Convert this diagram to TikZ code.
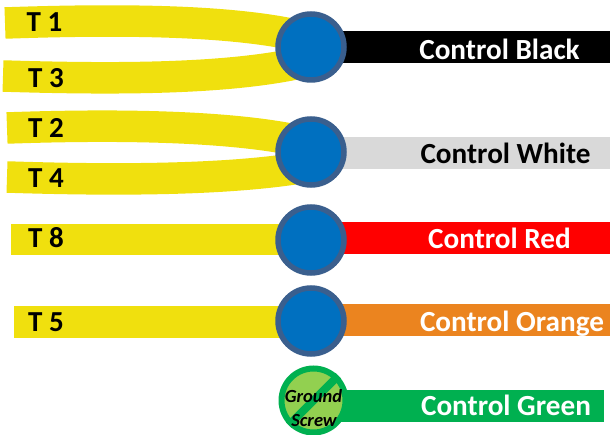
\documentclass[tikz,border=0pt]{standalone}
\usepackage{fontspec}
\setmainfont{Carlito}
\tikzset{
  x=1pt,y=-1pt,
  wire/.style={line width=31.5pt,draw=wireyellow},
  lead/.style={line width=32pt},
  terminal/.style={circle,draw=ringblue,fill=nutblue,line width=5.5pt,minimum size=66pt,inner sep=0pt},
  tlabel/.style={font=\bfseries\fontsize{29}{29}\selectfont,text=black,inner sep=0pt,anchor=base},
  clabel/.style={font=\bfseries\fontsize{29.2}{30}\selectfont,inner sep=0pt,anchor=base},
  gscrew/.style={circle,draw=groundgreen,fill=screwgreen,line width=6pt,minimum size=64pt,inner sep=0pt},
  glabel/.style={font=\bfseries\itshape\fontsize{18.5}{19}\selectfont,text=black,inner sep=0pt,anchor=base}
}
\definecolor{wireyellow}{HTML}{F0E00E}
\definecolor{ringblue}{HTML}{3A5F8E}
\definecolor{nutblue}{HTML}{0070C0}
\definecolor{leadgray}{HTML}{D9D9D9}
\definecolor{leadorange}{HTML}{EB841F}
\definecolor{groundgreen}{HTML}{00B050}
\definecolor{screwgreen}{HTML}{92D050}
\begin{document}
\begin{tikzpicture}
\useasboundingbox (0,0) rectangle (610,435);
% free ends
\coordinate (t1) at (5,23);
\coordinate (t3) at (3,76);
\coordinate (t2) at (7,128);
\coordinate (t4) at (7,177);
\coordinate (t8) at (11,239.5);
\coordinate (t5) at (14,322);
\coordinate (a1) at (300,36);
\coordinate (a3) at (300,63);
\coordinate (a2) at (300,141);
\coordinate (a4) at (300,168);
\coordinate (eblack) at (610,47);
\coordinate (ewhite) at (610,153.5);
\coordinate (ered) at (610,238);
\coordinate (eorange) at (610,320.5);
\coordinate (egreen) at (604,405.5);
\coordinate (c1) at (311,47);
\coordinate (c2) at (311,152);
\coordinate (c3) at (311,240);
\coordinate (c4) at (311,321);
\coordinate (c5) at (313.5,400.5);
% wires
\draw[wire] (t1) .. controls (120,19) and (230,20) .. (a1);
\draw[wire] (t3) .. controls (130,80) and (230,78) .. (a3);
\draw[wire] (t2) .. controls (120,124) and (230,126) .. (a2);
\draw[wire] (t4) .. controls (130,181) and (230,179) .. (a4);
\draw[wire] (t8) -- (t8 -| c3);
\draw[wire] (t5) -- (t5 -| c4);
% leads
\draw[lead,draw=black] (eblack -| c1) -- (eblack);
\draw[lead,draw=leadgray] (ewhite -| c2) -- (ewhite);
\draw[lead,draw=red] (ered -| c3) -- (ered);
\draw[lead,draw=leadorange] (eorange -| c4) -- (eorange);
\draw[lead,draw=groundgreen] (egreen -| c5) -- (egreen);
% terminals
\node[terminal] (n1) at (c1) {};
\node[terminal] (n2) at (c2) {};
\node[terminal] (n3) at (c3) {};
\node[terminal] (n4) at (c4) {};
\node[gscrew] (g) at (c5) {};
\draw[groundgreen,line width=8pt] (g.225) -- (g.45);
\node[glabel] (gl1) at (313.5,402.5) {Ground};
\node[glabel] (gl2) at (314,426.5) {Screw};
% labels
\node[tlabel] (l1) at (44.5,31.5) {T 1};
\node[tlabel] (l3) at (46,88) {T 3};
\node[tlabel] (l2) at (46,138) {T 2};
\node[tlabel] (l4) at (46,188) {T 4};
\node[tlabel] (l8) at (46,248) {T 8};
\node[tlabel] (l5) at (46,332) {T 5};
\node[clabel,text=white] (b) at (499.5,60) {Control Black};
\node[clabel,text=black] (w) at (505.5,163.5) {Control White};
\node[clabel,text=white] (r) at (499.5,248.5) {Control Red};
\node[clabel,text=white] (o) at (512,332) {Control Orange};
\node[clabel,text=white] (gr) at (506,415.5) {Control Green};
\end{tikzpicture}
\end{document}
